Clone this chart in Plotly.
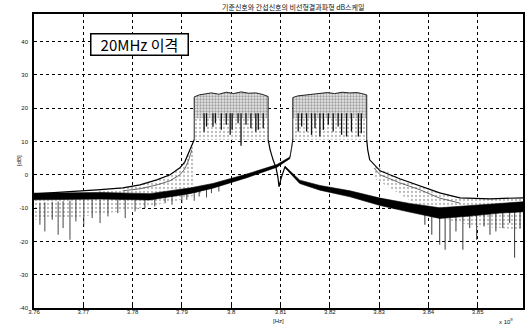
import numpy as np
import plotly.graph_objects as go

# ---------------- data ----------------
TITLE = "기준신호와 간섭신호의 비선형결과파형 dB스케일"
BOX_TEXT = "20MHz 이격"
X_TICKS = [3.76, 3.77, 3.78, 3.79, 3.80, 3.81, 3.82, 3.83, 3.84, 3.85]
X_TICK_LABELS = ["3.76", "3.77", "3.78", "3.79", "3.8", "3.81", "3.82", "3.83", "3.84", "3.85"]
Y_TICKS = [-40, -30, -20, -10, 0, 10, 20, 30, 40]
Y_TICK_LABELS = ["-40", "-30", "-20", "-10", "0", "10", "20", "30", "40"]
X_RANGE = [3.76, 3.8592]
Y_RANGE = [-40, 48.3]

# channel A (centre 3.80 GHz) and channel B (centre 3.82 GHz): top envelopes
BAND_A_F = [3.7925, 3.7935, 3.7945, 3.7960, 3.7975, 3.7990, 3.8005, 3.8020, 3.8035, 3.8050, 3.8065, 3.8075]
BAND_A_TOP = [23.4, 24.0, 24.3, 24.6, 24.2, 24.8, 24.4, 24.9, 24.5, 24.6, 24.1, 23.5]
BAND_B_F = [3.8125, 3.8135, 3.8150, 3.8165, 3.8180, 3.8195, 3.8210, 3.8225, 3.8240, 3.8255, 3.8265, 3.8275]
BAND_B_TOP = [23.2, 23.7, 24.0, 24.3, 24.5, 24.7, 24.4, 24.8, 24.6, 24.7, 24.4, 24.0]
BAND_DENSE_FLOOR = 17.0
BAND_EDGE_FLOOR = 10.5

# in-band dips
BAND_A_DIP_F = [3.7945, 3.7950, 3.7963, 3.7968, 3.7980, 3.7990, 3.7998, 3.8002, 3.8014, 3.8020, 3.8030, 3.8040, 3.8050, 3.8055, 3.8065]
BAND_A_DIP_DB = [12.9, 14.5, 14.4, 15.5, 13.5, 15.0, 12.0, 13.5, 15.5, 8.7, 15.0, 14.0, 12.9, 13.5, 14.0]
BAND_B_DIP_F = [3.8136, 3.8143, 3.8153, 3.8163, 3.8170, 3.8180, 3.8187, 3.8197, 3.8207, 3.8217, 3.8224, 3.8234, 3.8244, 3.8258, 3.8264]
BAND_B_DIP_DB = [13.0, 14.5, 13.0, 12.0, 14.0, 11.5, 13.5, 15.0, 13.0, 14.5, 12.0, 11.5, 13.0, 11.5, 12.5]

# channel A left skirt (thin upper curves)
A_LEFT_F = [3.7600, 3.7673, 3.7728, 3.7780, 3.7815, 3.7849, 3.7876, 3.7896, 3.7906, 3.7912, 3.7918, 3.7925]
A_LEFT_DB = [-5.7, -5.1, -4.5, -3.9, -3.0, -1.5, 0.0, 2.1, 3.9, 6.0, 8.1, 10.5]
A_LEFT2_F = [3.7780, 3.7815, 3.7850, 3.7876, 3.7896, 3.7906, 3.7914, 3.7920]
A_LEFT2_DB = [-4.8, -4.2, -3.0, -1.8, 0.0, 1.8, 4.5, 7.5]

# channel B left skirt (thick black)
B_LEFT_F = [3.7600, 3.7734, 3.7835, 3.7916, 3.7963, 3.8032, 3.8093, 3.8119, 3.8123, 3.8125]
B_LEFT_DB = [-6.5, -6.3, -6.6, -4.8, -3.3, -0.3, 2.7, 5.1, 8.1, 10.5]
B_LEFT_HALF = [1.0, 1.0, 0.95, 0.85, 0.7, 0.55, 0.4, 0.25, 0.15, 0.15]

# channel A right skirt (notch) and its descending tail (thick black)
A_RIGHT_F = [3.8075, 3.8079, 3.8085, 3.8091, 3.8095, 3.8097, 3.8101, 3.8105, 3.8109]
A_RIGHT_DB = [10.5, 7.5, 4.5, 2.1, -0.9, -3.6, -1.2, 1.0, 2.4]
A_DESC_F = [3.8109, 3.8139, 3.8180, 3.8241, 3.8302, 3.8362, 3.8423, 3.8484, 3.8545, 3.8592]
A_DESC_DB = [2.4, -2.1, -3.9, -5.7, -8.1, -9.9, -11.5, -10.8, -10.0, -9.6]
A_DESC_HALF = [0.25, 0.5, 0.7, 0.9, 1.1, 1.3, 1.6, 1.6, 1.5, 1.5]

# channel B right skirt (thin double curve)
B_RIGHT_F = [3.8275, 3.8277, 3.8281, 3.8302, 3.8342, 3.8383, 3.8423, 3.8464, 3.8525, 3.8592]
B_RIGHT_DB = [10.5, 7.5, 4.5, 1.2, -1.2, -3.3, -5.4, -6.9, -7.2, -6.9]
B_RIGHT2_F = [3.8290, 3.8302, 3.8342, 3.8383, 3.8423, 3.8464]
B_RIGHT2_DB = [2.0, 0.0, -2.4, -4.5, -7.0, -8.5]

# lower noise floors (bottom of the dense noise)
LEFT_FLOOR_F = [3.7600, 3.7650, 3.7700, 3.7750, 3.7800, 3.7850, 3.7900, 3.7940]
LEFT_FLOOR_DB = [-13.5, -13.0, -12.5, -11.5, -10.5, -9.0, -7.5, -5.5]
RIGHT_FLOOR_F = [3.8290, 3.8350, 3.8400, 3.8450, 3.8500, 3.8550, 3.8592]
RIGHT_FLOOR_DB = [-1.0, -6.5, -11.0, -14.0, -15.5, -16.0, -16.5]

# noise dips below the floors
LEFT_DIP_F = [3.7612, 3.7622, 3.7637, 3.7649, 3.7659, 3.7673, 3.7685, 3.7701, 3.7718, 3.7734, 3.7750, 3.7770, 3.7785, 3.7805, 3.7825, 3.7845, 3.7866, 3.7880]
LEFT_DIP_DB = [-15.0, -17.0, -13.5, -18.0, -16.0, -19.5, -14.0, -15.5, -13.0, -14.5, -12.5, -11.5, -13.0, -11.0, -10.0, -9.5, -8.5, -9.0]
MID_DIP_F = [3.7900, 3.7910, 3.7925, 3.7935, 3.7950, 3.7960, 3.7975]
MID_DIP_DB = [-8.5, -7.5, -7.8, -6.5, -6.8, -5.5, -5.0]
RIGHT_DIP_F = [3.8393, 3.8407, 3.8423, 3.8434, 3.8444, 3.8456, 3.8470, 3.8484, 3.8498, 3.8513, 3.8525, 3.8537, 3.8551, 3.8565, 3.8575, 3.8586]
RIGHT_DIP_DB = [-15.0, -18.0, -21.0, -22.5, -20.0, -17.0, -22.5, -16.0, -19.5, -15.5, -18.0, -17.0, -16.0, -14.5, -24.9, -16.0]

# ---------------- helpers ----------------
def polygon(xu, yu, xl, yl):
    return list(xu) + list(xl)[::-1] + [xu[0]], list(yu) + list(yl)[::-1] + [yu[0]]

def band_thick(f, c, h):
    c = np.array(c); h = np.array(h)
    return polygon(f, c + h, f, c - h)

def spikes(f, bottom, top_f, top_db):
    xs, ys = [], []
    tops = np.interp(f, top_f, top_db)
    for x, b, t in zip(f, bottom, tops):
        xs += [x, x, None]
        ys += [t, b, None]
    return xs, ys

fig = go.Figure()
GRAY_LIGHT = "#e2e2e2"

def add_fill(x, y, color, lw=0, lc="black", pattern=None):
    kw = {}
    if pattern is not None:
        kw["fillpattern"] = pattern
    fig.add_trace(go.Scatter(x=x, y=y, mode="lines", fill="toself", fillcolor=color,
                             line=dict(width=lw, color=lc), hoverinfo="skip", showlegend=False, **kw))

def add_line(x, y, width=1, color="black"):
    fig.add_trace(go.Scatter(x=x, y=y, mode="lines", line=dict(width=width, color=color),
                             hoverinfo="skip", showlegend=False, connectgaps=False))

STIPPLE = dict(shape=".", fgcolor="#555555", bgcolor="#e6e6e6", size=3, solidity=0.45)
STIPPLE_LIGHT = dict(shape=".", fgcolor="#777777", bgcolor="white", size=4, solidity=0.25)

# noise region on the left (between upper skirts and the floor)
ub = np.interp(LEFT_FLOOR_F, B_LEFT_F, B_LEFT_DB)
px, py = polygon(LEFT_FLOOR_F, list(ub), LEFT_FLOOR_F, LEFT_FLOOR_DB)
add_fill(px, py, GRAY_LIGHT, pattern=STIPPLE_LIGHT)
# region between channel A left skirt and channel B thick skirt
sel = [f for f in A_LEFT_F if f >= 3.7728]
au = np.interp(sel, A_LEFT_F, A_LEFT_DB)
bl = np.interp(sel, B_LEFT_F, B_LEFT_DB)
px, py = polygon(sel, list(au), sel, list(bl))
add_fill(px, py, GRAY_LIGHT, pattern=STIPPLE_LIGHT)
# right noise region
ru = np.interp(RIGHT_FLOOR_F, B_RIGHT_F, B_RIGHT_DB)
px, py = polygon(RIGHT_FLOOR_F, list(ru), RIGHT_FLOOR_F, RIGHT_FLOOR_DB)
add_fill(px, py, GRAY_LIGHT, pattern=STIPPLE_LIGHT)

# channels: light lower part, dense stippled upper part
for bf, bt in ((BAND_A_F, BAND_A_TOP), (BAND_B_F, BAND_B_TOP)):
    lo = [BAND_EDGE_FLOOR] * len(bf)
    px, py = polygon(bf, bt, bf, lo)
    add_fill(px, py, "#f3f3f3", pattern=STIPPLE_LIGHT)
    mid = [BAND_DENSE_FLOOR] * len(bf)
    px, py = polygon(bf, bt, bf, mid)
    add_fill(px, py, "#cccccc", pattern=STIPPLE)
    add_line([bf[0]] + bf + [bf[-1]], [BAND_EDGE_FLOOR] + bt + [BAND_EDGE_FLOOR], width=1, color="#222")

# in-band dips
for df, dd, bf in ((BAND_A_DIP_F, BAND_A_DIP_DB, BAND_A_F), (BAND_B_DIP_F, BAND_B_DIP_DB, BAND_B_F)):
    sx, sy = spikes(df, dd, [bf[0], bf[-1]], [18.5, 18.5])
    add_line(sx, sy, width=1.3, color="#111")

# noise dips
sx, sy = spikes(LEFT_DIP_F, LEFT_DIP_DB, LEFT_FLOOR_F, [-8.5, -8.0, -7.5, -7.5, -7.5, -7.0, -5.5, -4.0])
add_line(sx, sy, width=0.9, color="#333")
sx, sy = spikes(MID_DIP_F, MID_DIP_DB, B_LEFT_F, B_LEFT_DB)
add_line(sx, sy, width=0.9, color="#333")
sx, sy = spikes(RIGHT_DIP_F, RIGHT_DIP_DB, A_DESC_F, A_DESC_DB)
add_line(sx, sy, width=0.9, color="#222")

# thin skirt curves
add_line(A_LEFT_F, A_LEFT_DB, width=1.2)
add_line(A_LEFT2_F, A_LEFT2_DB, width=0.8, color="#444")
add_line(B_RIGHT_F, B_RIGHT_DB, width=1.2)
add_line(B_RIGHT2_F, B_RIGHT2_DB, width=0.8, color="#444")
add_line(A_RIGHT_F, A_RIGHT_DB, width=1.2)

# thick black skirts
px, py = band_thick(B_LEFT_F, B_LEFT_DB, B_LEFT_HALF)
add_fill(px, py, "black", lw=0.6)
px, py = band_thick(A_DESC_F, A_DESC_DB, A_DESC_HALF)
add_fill(px, py, "black", lw=0.6)

axis_common = dict(showgrid=True, gridcolor="black", griddash="dot", gridwidth=1,
                   showline=True, mirror=True, linecolor="black", linewidth=1.5,
                   ticks="inside", ticklen=3, tickcolor="black", zeroline=False,
                   tickfont=dict(family="Liberation Sans", size=6, color="#111"))

fig.update_layout(
    width=531, height=327,
    margin=dict(l=34, r=8, t=14, b=19, autoexpand=False),
    paper_bgcolor="white", plot_bgcolor="white",
    showlegend=False,
    xaxis=dict(range=X_RANGE, tickvals=X_TICKS, ticktext=X_TICK_LABELS,
               ticklabelstandoff=-3, **axis_common),
    yaxis=dict(range=Y_RANGE, tickvals=Y_TICKS, ticktext=Y_TICK_LABELS,
               ticklabelstandoff=3, **axis_common),
    annotations=[
        dict(text=TITLE, x=0.53, y=1.0, xref="paper", yref="paper", yanchor="bottom",
             showarrow=False, font=dict(family="Noto Sans CJK KR", size=7, color="#111")),
        dict(text=BOX_TEXT, x=0.1145, y=0.937, xref="paper", yref="paper", showarrow=False,
             font=dict(family="Noto Sans CJK KR", size=15, color="black"),
             bgcolor="white", bordercolor="black", borderwidth=1.5, borderpad=1,
             width=94, height=18),
        dict(text="[dB]", x=-0.041, y=0.503, xref="paper", yref="paper", textangle=-90,
             showarrow=False, font=dict(family="Liberation Sans", size=6, color="#111")),
        dict(text="[Hz]", x=0.501, y=-0.044, xref="paper", yref="paper", yanchor="middle",
             showarrow=False, font=dict(family="Liberation Sans", size=6, color="#111")),
        dict(text="x 10<sup>9</sup>", x=0.984, y=-0.044, xref="paper", yref="paper", yanchor="middle",
             showarrow=False, font=dict(family="Liberation Sans", size=6, color="#111")),
    ],
)

fig.write_html("out.html", config={"displayModeBar": False},
               post_script="document.body.style.margin='0px';")
